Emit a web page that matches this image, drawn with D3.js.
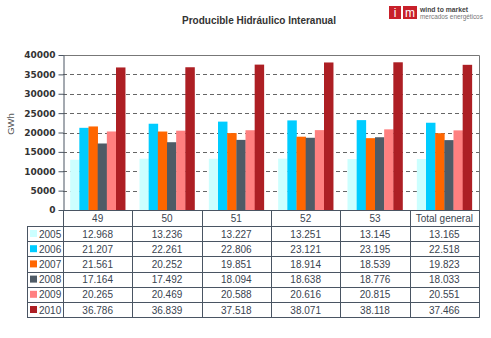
<!DOCTYPE html>
<html lang="es">
<head>
<meta charset="UTF-8" />
<title>Producible Hidráulico Interanual</title>
<style>
  body { margin: 0; background: #fff; font-family: "Liberation Sans", Arial, sans-serif; }
  svg text { fill: #3a4450; }
  .tbl text { font-family: "Liberation Sans Narrow", "Liberation Sans", Arial, sans-serif; font-size: 10px; }
</style>
</head>
<body>
<div id="chart"></div>
<script src="https://cdn.jsdelivr.net/npm/d3@7"></script>
<script>
  const categories = ["49", "50", "51", "52", "53", "Total general"];
  const years = ["2005", "2006", "2007", "2008", "2009", "2010"];
  const v2005 = [12968, 13236, 13227, 13251, 13145, 13165];
  const v2006 = [21207, 22261, 22806, 23121, 23195, 22518];
  const v2007 = [21561, 20252, 19851, 18914, 18539, 19823];
  const v2008 = [17164, 17492, 18094, 18638, 18776, 18033];
  const v2009 = [20265, 20469, 20588, 20616, 20815, 20551];
  const v2010 = [36786, 36839, 37518, 38071, 38118, 37466];
  const yTicks = [0, 5000, 10000, 15000, 20000, 25000, 30000, 35000, 40000];
  const colors = ["#ccffff", "#00ccff", "#ff6600", "#4f5b66", "#ff8080", "#ad1f24"];

  const series = [v2005, v2006, v2007, v2008, v2009, v2010];

  const W = 491, H = 338;
  const pLeft = 63, pRight = 479, pTop = 55, pBottom = 210;
  const rowH = 15.2, headH = 16, legLeft = 27;

  const svg = d3.select("#chart").append("svg").attr("width", W).attr("height", H);

  // title
  svg.append("text").attr("x", 259).attr("y", 24).attr("text-anchor", "middle")
    .style("font-size", "10px").style("font-weight", "bold").style("fill", "#333")
    .text("Producible Hidráulico Interanual");

  // logo
  const logo = svg.append("g").attr("transform", "translate(389,6)");
  logo.append("rect").attr("width", 12).attr("height", 13).attr("fill", "#c8202a");
  logo.append("rect").attr("x", 14).attr("width", 14).attr("height", 13).attr("fill", "#c8202a");
  logo.append("text").attr("x", 6).attr("y", 11).attr("text-anchor", "middle")
    .style("font-size", "12px").style("fill", "#fff").text("i");
  logo.append("text").attr("x", 21).attr("y", 11).attr("text-anchor", "middle")
    .style("font-size", "12px").style("fill", "#fff").text("m");
  logo.append("text").attr("x", 31).attr("y", 6).style("font-size", "6.8px")
    .style("font-weight", "bold").style("fill", "#444").text("wind to market");
  logo.append("text").attr("x", 31).attr("y", 13).style("font-size", "6.4px")
    .style("fill", "#777").text("mercados energéticos");

  const y = d3.scaleLinear().domain([0, 40000]).range([pBottom, pTop]);
  const xCol = d3.scaleBand().domain(categories).range([pLeft, pRight]);
  const groupW = 55;
  const x1 = d3.scaleBand().domain(years).range([0, groupW]);

  // grid
  svg.append("g").selectAll("line").data(yTicks.slice(1, -1)).join("line")
    .attr("x1", pLeft).attr("x2", pRight).attr("y1", d => Math.round(y(d)) + 0.5).attr("y2", d => Math.round(y(d)) + 0.5)
    .attr("stroke", "#666").attr("stroke-dasharray", "4,3");

  // bars
  const bandStart = c => xCol(c) + (xCol.bandwidth() - groupW) / 2;
  series.forEach((vals, si) => {
    svg.append("g").selectAll("rect").data(vals).join("rect")
      .attr("x", (d, i) => bandStart(categories[i]) + x1(years[si]))
      .attr("y", d => y(d))
      .attr("width", x1.bandwidth() + 0.3)
      .attr("height", d => pBottom - y(d))
      .attr("fill", colors[si]);
  });

  // plot frame
  svg.append("path").attr("d", `M${pLeft},${pTop + 0.5}H${pRight + 0.5}V${pBottom}`)
    .attr("fill", "none").attr("stroke", "#777");

  // y axis
  const yAxis = svg.append("g").attr("transform", `translate(${pLeft + 0.5},0)`)
    .call(d3.axisLeft(y).tickValues(yTicks).tickSize(5).tickSizeOuter(0).tickFormat(d3.format("d")));
  yAxis.select(".domain").attr("stroke", "#4a5563");
  yAxis.selectAll(".tick line").attr("stroke", "#4a5563");
  yAxis.selectAll("text").style("font-family", "'DejaVu Sans', sans-serif")
    .style("font-size", "9px").style("font-weight", "bold")
    .style("fill", "#333").attr("x", -8);

  svg.append("text").attr("transform", "translate(14,124) rotate(-90)")
    .attr("text-anchor", "middle").style("font-size", "9.5px")
    .style("fill", "#555").text("GWh");

  // data table
  const tbl = svg.append("g").attr("class", "tbl");
  const tableBottom = pBottom + headH + rowH * years.length;
  const lineC = "#4a5563";
  tbl.append("line").attr("x1", pLeft).attr("x2", pRight + 0.5).attr("y1", pBottom + 0.5).attr("y2", pBottom + 0.5)
    .attr("stroke", lineC);
  d3.range(years.length + 1).forEach(i => {
    const yy = Math.round(pBottom + headH + i * rowH) + 0.5;
    tbl.append("line").attr("x1", legLeft).attr("x2", pRight + 0.5).attr("y1", yy).attr("y2", yy)
      .attr("stroke", lineC);
  });
  categories.forEach(c => {
    const xx = Math.round(xCol(c)) + 0.5;
    tbl.append("line").attr("x1", xx).attr("x2", xx).attr("y1", pBottom).attr("y2", tableBottom + 0.5)
      .attr("stroke", lineC);
  });
  tbl.append("line").attr("x1", pRight + 0.5).attr("x2", pRight + 0.5).attr("y1", pBottom).attr("y2", tableBottom + 0.5)
    .attr("stroke", lineC);
  tbl.append("line").attr("x1", legLeft + 0.5).attr("x2", legLeft + 0.5).attr("y1", pBottom + headH)
    .attr("y2", tableBottom + 0.5).attr("stroke", lineC);

  tbl.selectAll("text.head").data(categories).join("text").attr("class", "head")
    .attr("x", c => xCol(c) + xCol.bandwidth() / 2).attr("y", pBottom + 12)
    .attr("text-anchor", "middle").text(c => c);

  const fmt = d3.formatLocale({ decimal: ",", thousands: ".", grouping: [3], currency: ["", ""] }).format(",d");
  series.forEach((vals, si) => {
    const yy = pBottom + headH + si * rowH;
    tbl.append("rect").attr("x", legLeft + 3).attr("y", yy + 4).attr("width", 7).attr("height", 7)
      .attr("fill", colors[si]);
    tbl.append("text").attr("x", legLeft + 12).attr("y", yy + 11.5).text(years[si]);
    tbl.append("g").selectAll("text").data(vals).join("text")
      .attr("x", (d, i) => xCol(categories[i]) + xCol.bandwidth() / 2).attr("y", yy + 11.5)
      .attr("text-anchor", "middle").text(d => fmt(d));
  });
</script>
</body>
</html>
